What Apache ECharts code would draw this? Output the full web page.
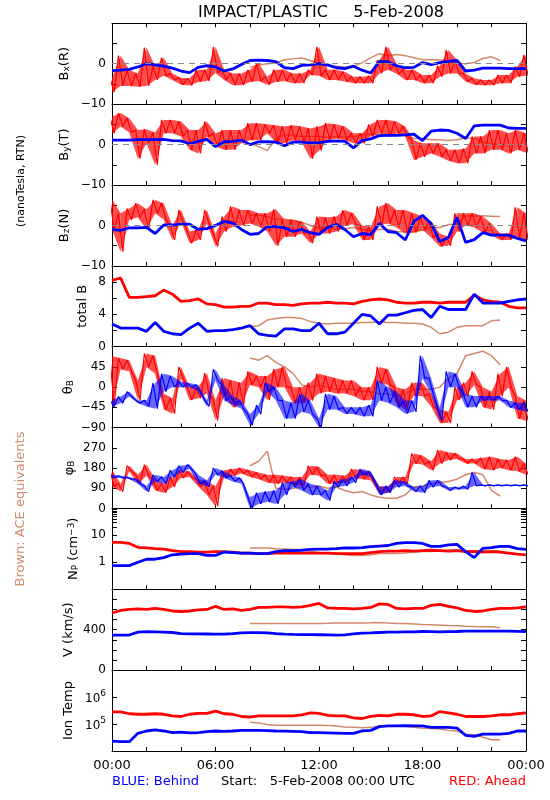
<!DOCTYPE html>
<html><head><meta charset="utf-8">
<script src="https://cdn.jsdelivr.net/npm/echarts@6/dist/echarts.min.js"></script>
<style>html,body{margin:0;padding:0;background:#fff}#c{width:550px;height:800px}</style>
</head><body><div id="c"></div>
<script>
// ---------------- DATA (30-minute steps) ----------------
const hours = [0,0.5,1,1.5,2,2.5,3,3.5,4,4.5,5,5.5,6,6.5,7,7.5,8,8.5,9,9.5,10,10.5,11,11.5,12,12.5,13,13.5,14,14.5,15,15.5,16,16.5,17,17.5,18,18.5,19,19.5,20,20.5,21,21.5,22,22.5,23,23.5,24];
const timeLabels = ['00:00','06:00','12:00','18:00','00:00'];

// Bx (R)
const bxBlue  = [-1.7,-1.6,-1.4,-0.8,0,-0.3,-0.6,-1.1,-1.8,-2.2,-0.9,-0.5,-0.8,-1.8,-1.3,-0.2,0.8,0.9,0.8,0.5,-1.0,-1.2,-0.4,-0.3,0,-0.3,-1.0,-1.2,-0.6,-1.6,-2.3,0.6,0.5,-0.5,-1.0,-0.9,0.3,-0.2,0.3,0.6,0.8,-1.8,-1.6,-1.1,-1.1,-1.1,-1.2,-1.2,-1.2];
const bxRedHi = [-3.5,2.0,-1.5,-2.4,4.0,-0.7,1.5,-2.4,-3.5,-3.6,-1.5,-1.5,4.2,-1.5,-2.4,-2.4,-1.5,0.1,-3.2,-1.5,-1.5,-2.4,-2.4,-1.5,4.2,-1.5,-1.5,-2.0,-3.2,-3.2,-3.0,0.9,4.2,0,-1.5,-1.5,-2.8,-2.8,-0.5,3.4,0.9,-2.4,-3.6,-4.0,-4.0,-2.8,-2.8,-0.7,2.2];
const bxRedLo = [-7,-5.5,-5.5,-5.7,-5.5,-4,-3,-4,-5.2,-5.4,-4.5,-4.3,-2.3,-4,-5.3,-5.3,-4.5,-4.3,-5.2,-4.5,-4.3,-4.8,-4.8,-2.8,-3,-4,-4,-4.4,-4.8,-4.8,-4.8,-2.4,-1.5,-2.5,-4,-4,-4.8,-4.8,-3.2,-2.4,-2.4,-4.4,-5.2,-5.3,-5.3,-4.8,-4.8,-3.2,-3];
const bxBrown = [null,null,null,null,null,null,null,null,null,null,null,null,null,null,null,null,-0.9,-0.3,0.0,0.2,1.0,1.2,1.4,0.8,0.0,-0.5,-0.6,-0.8,-0.6,0.2,1.5,2.5,2.0,2.3,2.0,1.5,1.0,1.0,1.0,0.4,0.1,0,0.3,1.3,1.7,0.8,null,null,null];

// By (T)
const byBlue  = [1.1,1.1,1.1,1.2,1.2,1.2,1.3,1.0,0.9,0.2,0.8,1.3,-0.5,0.7,0.8,1.1,0.0,0.7,0.7,0.6,-0.3,0.6,0.6,0.4,0.5,0.8,0.9,0.8,-0.8,1.0,1.4,2.2,2.3,2.3,2.4,2.6,1.0,3.3,3.6,3.5,2.8,1.5,4.6,4.8,4.8,4.8,4.1,4.0,4.0];
const byRedHi = [6.9,7.8,6.5,3.6,3.8,3.0,6.1,6.1,5.7,3.6,3.6,5.7,2.8,3.6,3.6,3.6,5.3,5.3,5.0,4.8,4.5,4.8,4.5,4.0,4.5,5.3,5.0,4.5,2.8,2.8,5.0,6.1,6.1,5.7,4.5,1.1,0.3,0.3,0.3,-1.3,-1.3,-1.0,2.0,2.0,3.6,3.6,2.8,3.6,2.8];
const byRedLo = [2.8,4.5,3.0,-3.5,0.3,-5.0,2.8,2.8,2.0,-1.3,-2.2,2.0,-0.5,-1.3,-1.3,0.3,1.1,1.1,2.8,0.5,0.3,1.1,0.5,-3.5,-1.5,1.1,1.5,1.1,0.3,0.3,2.0,2.8,2.0,2.8,2.0,-3.8,-3.0,-2.2,-3.0,-4.0,-4.6,-4.6,-2.2,-2.2,-1.3,-1.3,-2.2,-1.3,-2.0];
const byBrown = [null,null,null,null,null,null,null,null,null,null,null,null,null,null,null,null,0.3,-0.5,-1.5,1.5,2.5,2.3,2.0,2.0,2.0,1.8,2.0,2.0,1.9,2.5,2.5,2.5,2.4,2.5,2.3,1.5,1.5,1.2,1.2,1.0,1.2,1.7,1.5,0.5,0.2,0,null,null,null];

// Bz (N)
const bzBlue  = [-1.0,-1.2,-0.6,-0.6,-0.5,-2.0,0.1,0.1,0.3,0.3,-1.0,-0.8,0.0,1.0,0.6,-1.0,-2.2,-2.0,-0.3,-0.3,-0.6,-1.5,-1.0,-1.8,-2.2,-0.5,0.3,-1.0,-2.8,-2.0,-2.3,0.5,-1.5,-1.8,-3.6,1.0,2.5,0.5,-4.0,-3.0,2.0,-4.2,-3.5,-1.8,-2.4,-2.4,-2.4,-3.2,-3.8];
const bzRedHi = [6.5,3.0,4.2,5.5,4.0,6.3,5.5,0,3.8,-1.5,-1.0,3.8,-2.0,2.2,4.7,3.8,3.8,3.0,3.0,4.0,1.4,1.4,1.0,-1.5,2.2,2.0,2.2,3.8,3.0,0.0,-0.3,4.7,5.5,3.8,3.8,3.0,2.2,1.0,-2.0,-2.8,3.0,3.0,3.0,2.2,0.5,-2.0,-2.0,4.5,3.0];
const bzRedLo = [-1.0,-6.5,1.4,2.0,-1.0,3.0,1.4,-3.6,1.0,-4.4,-3.6,0.5,-5.2,-1.5,-0.3,0.0,0.5,-0.3,-1.5,-5.0,-2.8,-2.8,-2.0,-4.4,-2.0,-2.0,-1.5,0.0,0.3,-3.6,-3.6,0.0,0.5,-0.5,-2.0,-1.8,-1.1,-3.0,-5.2,-5.0,-1.5,0.0,-0.5,-1.8,-2.4,-3.6,-3.6,-3.0,-3.6];
const bzBrown = [null,null,null,null,null,null,null,null,null,null,null,null,null,null,null,null,2.5,2.5,2.2,1.5,1.5,1.2,0.8,0,-0.5,-0.3,-1.0,-0.8,-0.5,-1.0,-1.2,-1.0,-1.0,-1.5,-1.6,-1.5,-1.2,-0.5,-0.5,0.2,0.3,2.3,2.3,2.4,2.3,2.2,null,null,null];

// total B
const btBlue  = [2.8,2.3,2.3,2.3,1.9,3.0,1.9,1.6,1.5,2.3,2.9,1.9,2.0,2.0,2.1,2.3,2.6,1.6,1.4,1.3,2.2,2.2,2.0,2.0,2.9,1.6,1.6,1.8,2.9,4.0,3.8,2.8,3.9,3.9,4.2,4.5,4.6,3.6,5.0,4.6,4.6,4.6,6.5,5.4,5.4,5.4,5.6,5.8,5.9];
const btRed   = [8.2,8.5,6.1,6.1,6.2,6.3,7.0,6.5,5.6,5.7,5.9,5.3,5.2,4.9,4.9,5.0,5.0,5.4,5.4,5.2,5.2,5.1,5.3,5.4,5.4,5.5,5.4,5.4,5.3,5.6,5.8,5.9,5.8,5.5,5.4,5.4,5.5,5.5,5.4,5.5,5.5,5.5,6.4,5.8,5.6,5.5,5.0,4.8,4.8];
const btBrown = [null,null,null,null,null,null,null,null,null,null,null,null,null,null,null,null,2.5,2.6,3.3,3.5,3.6,3.6,3.5,3.1,2.9,2.8,2.9,2.9,2.9,3.0,3.0,3.1,3.0,3.0,2.9,2.9,2.8,2.4,1.6,1.8,2.4,2.6,2.6,2.6,3.2,3.3,null,null,null];

// theta_B
const thBlueHi = [-29,-21,-10,-29,-29,9,30,25,12,9,5,-29,40,5,-20,-30,-60,-40,10,0,-30,-35,-15,-30,-70,-15,-20,-45,-45,-45,-40,15,0,-10,-30,-30,70,20,-45,35,30,-15,-20,-20,-20,-20,-30,-35,-35];
const thBlueLo = [-43,-36,-21,-36,-43,-48,-10,0,0,0,-10,-43,15,-30,-40,-48,-85,-60,-10,-29,-70,-70,-55,-60,-90,-50,-50,-59,-60,-65,-65,-30,-35,-45,-59,-55,20,-15,-75,0,0,-45,-45,-30,-30,-30,-45,-50,-55];
const thRedHi  = [69,65,60,15,75,70,-14,-25,45,0,0,31,-29,20,15,10,35,25,25,40,45,0,0,10,30,25,20,15,15,0,0,45,40,0,-5,10,10,-14,-50,-55,0,10,35,0,-10,30,45,-20,-30];
const thRedLo  = [-43,40,35,-29,45,30,-50,-59,20,-29,-25,-14,-74,-20,-45,-40,5,0,-29,0,0,-36,-36,-30,-14,-10,-14,-14,-20,-29,-29,9,5,-40,-50,-20,-20,-43,-80,-80,-29,-20,5,-45,-50,-20,0,-70,-75];
const thBrown  = [null,null,null,null,null,null,null,null,null,null,null,null,null,null,null,null,65,60,70,55,45,30,5,0,5,0,-5,-5,-5,-10,-10,-15,-15,-20,-15,-5,-5,-5,0,20,30,70,75,80,70,50,null,null,null];

// phi_B
const phBlueHi = [150,145,140,130,100,150,140,170,190,195,150,125,180,165,145,135,50,70,75,80,115,120,130,110,100,80,120,130,140,175,165,95,100,125,120,95,100,125,125,95,95,100,160,105,105,105,105,105,105];
const phBlueLo = [135,135,130,110,75,120,110,140,160,175,110,97,150,135,120,110,0,20,30,20,60,95,80,60,60,35,95,100,115,150,140,60,70,95,100,75,70,95,100,80,85,85,100,100,100,100,100,100,100];
const phRedHi  = [172,110,190,150,195,130,110,140,170,165,130,120,100,170,175,180,170,160,150,150,145,140,140,190,185,150,150,145,175,170,160,100,95,140,140,245,235,210,260,250,245,220,220,225,230,220,215,230,200];
const phRedLo  = [97,75,165,110,145,80,70,95,135,140,97,60,10,140,145,155,140,130,115,110,115,105,100,150,145,110,110,115,135,130,125,65,70,110,110,200,195,170,200,215,220,200,200,175,170,180,170,165,150];
const phBrown  = [null,null,null,null,null,null,null,null,null,null,null,null,null,null,null,null,190,210,255,90,85,90,95,95,100,90,95,80,70,75,60,50,45,45,60,95,100,110,115,120,130,150,160,150,80,55,null,null,null];

// Np (cm^-3)
const npBlue  = [0.75,0.75,0.75,1.0,1.3,1.3,1.5,1.9,2.0,2.1,2.1,1.8,1.8,2.4,2.3,2.2,2.2,2.1,2.1,2.5,2.7,2.7,2.8,3.0,3.1,3.1,3.2,3.4,3.4,3.5,3.8,4.0,4.2,5.0,5.4,5.4,5.0,3.9,3.9,4.4,4.6,2.5,1.5,3.3,3.5,3.9,3.9,3.2,3.0];
const npRed   = [5.5,5.5,5.0,3.6,3.4,3.2,3.1,2.7,2.5,2.5,2.4,2.4,2.5,2.5,2.4,2.2,2.2,2.1,2.1,2.2,2.2,2.2,2.2,2.2,2.2,2.2,2.1,2.1,2.1,2.1,2.3,2.5,2.6,2.6,2.7,2.6,2.7,2.8,2.7,2.6,2.7,2.5,2.5,2.4,2.5,2.4,2.2,2.0,1.9];
const npBrown = [null,null,null,null,null,null,null,null,null,null,null,null,null,null,null,null,3.4,3.4,3.4,3.2,3.1,3.0,3.0,2.5,2.3,2.2,2.2,1.9,1.8,1.8,1.9,2.1,2.1,2.1,2.2,2.4,2.5,2.5,2.6,2.8,2.8,2.7,2.7,2.7,2.7,2.6,null,null,null];

// V (km/s)
const vBlue  = [347,347,347,375,380,378,375,372,360,358,358,357,356,355,360,368,370,370,368,360,355,353,352,352,350,348,346,348,358,365,368,372,375,375,378,378,382,380,378,380,382,385,385,385,385,385,385,383,380];
const vRed   = [565,590,600,605,600,610,600,585,580,585,595,600,630,600,605,590,600,620,620,625,625,620,625,640,660,615,610,610,605,610,620,655,650,610,605,610,610,640,650,630,615,590,580,585,600,610,610,615,625];
const vBrown = [null,null,null,null,null,null,null,null,null,null,null,null,null,null,null,null,462,462,462,462,462,462,462,462,462,463,465,466,466,467,468,470,465,462,460,455,450,448,445,442,440,435,432,430,430,420,null,null,null];

// Ion Temp (K)
const tBlue  = [2.3e4,2.2e4,2.2e4,4.5e4,5.5e4,6.0e4,5.5e4,4.8e4,5.0e4,4.7e4,4.8e4,5.2e4,5.5e4,5.3e4,5.5e4,5.8e4,5.8e4,5.8e4,5.7e4,5.5e4,5.4e4,5.3e4,5.2e4,4.8e4,4.8e4,4.7e4,4.6e4,4.5e4,4.5e4,5.6e4,5.8e4,8.0e4,8.5e4,8.5e4,8.6e4,8.5e4,8.5e4,7.5e4,7.5e4,7.5e4,7.0e4,3.8e4,3.5e4,4.2e4,4.2e4,4.2e4,4.5e4,5.5e4,5.5e4];
const tRed   = [2.8e5,2.8e5,2.4e5,2.3e5,2.3e5,2.4e5,2.3e5,2.0e5,1.9e5,2.3e5,2.5e5,2.5e5,3.0e5,2.4e5,2.3e5,1.9e5,1.8e5,2.0e5,2.0e5,2.0e5,2.0e5,2.0e5,2.2e5,2.6e5,2.5e5,2.1e5,2.0e5,2.0e5,1.7e5,1.6e5,1.9e5,2.1e5,2.0e5,2.3e5,2.3e5,2.2e5,1.9e5,2.0e5,2.9e5,2.6e5,2.3e5,1.9e5,1.9e5,1.9e5,2.0e5,2.2e5,2.2e5,2.4e5,2.6e5];
const tBrown = [null,null,null,null,null,null,null,null,null,null,null,null,null,null,null,null,1.15e5,1.1e5,9.5e4,9e4,9e4,9e4,9e4,9e4,9e4,8.8e4,8.5e4,7.8e4,7.5e4,7.2e4,7.5e4,8.5e4,8.5e4,8.5e4,8.3e4,7.5e4,7.0e4,6.8e4,6.5e4,5.8e4,5.5e4,4.2e4,4.0e4,3.2e4,2.6e4,2.6e4,null,null,null];

// ---------------- STYLE / LAYOUT ----------------
const FONT = 'DejaVu Sans';
const BLUE = '#0000ff', RED = '#ff0000', BROWN = '#d2886a';
const TOP0 = 23.3, PH = 80.85, GL = 112, GR = 24;

function minusFmt(v){ return v < 0 ? '\u2212' + Math.abs(v) : String(v); }

const panels = [
  {min:-10,max:10,interval:5,labels:[-10,0],zero:true, blue:{v:bxBlue}, red:{hi:bxRedHi,lo:bxRedLo}, brown:bxBrown, name:'B{s|x}(R)', nx:65},
  {min:-10,max:10,interval:5,labels:[-10,0],zero:true, blue:{v:byBlue}, red:{hi:byRedHi,lo:byRedLo}, brown:byBrown, name:'B{s|y}(T)', nx:65},
  {min:-10,max:10,interval:5,labels:[-10,0],zero:true, blue:{v:bzBlue}, red:{hi:bzRedHi,lo:bzRedLo}, brown:bzBrown, name:'B{s|z}(N)', nx:65},
  {min:0,max:10,interval:2,labels:[0,4,8], blue:{v:btBlue}, red:{v:btRed}, brown:btBrown, name:'total B', nx:83},
  {min:-90,max:90,interval:45,labels:[-90,-45,0,45], blue:{hi:thBlueHi,lo:thBlueLo}, red:{hi:thRedHi,lo:thRedLo}, brown:thBrown, name:'\u03b8{s|B}', nx:69},
  {min:0,max:360,interval:90,labels:[0,90,180,270], blue:{hi:phBlueHi,lo:phBlueLo}, red:{hi:phRedHi,lo:phRedLo}, brown:phBrown, name:'\u03c6{s|B}', nx:70},
  {log:true,min:0.1,max:100,ticks:[0.1,1,10,20,30,40,50,60,70,80,90,100],labels:[1,10], blue:{v:npBlue}, red:{v:npRed}, brown:npBrown, name:'N{s|P} (cm{u|\u22123})', nx:74},
  {min:0,max:800,interval:100,labels:[0,400], blue:{v:vBlue}, red:{v:vRed}, brown:vBrown, name:'V (km/s)', nx:69},
  {log:true,min:1e4,max:1e7,ticks:[1e4,1e5,1e6,1e7],labels:[1e5,1e6], pow:true, blue:{v:tBlue}, red:{v:tRed}, brown:tBrown, name:'Ion Temp', nx:69}
];

function lineData(vals){ return hours.map((t,i)=>[t, vals[i]]); }
function zigzag(hi, lo){ const d=[]; hours.forEach((t,i)=>{ d.push([t-0.125, hi[i]]); d.push([t+0.125, lo[i]]); }); return d; }

const grids=[], xAxes=[], yAxes=[], series=[], graphics=[];
const tickStyle = {color:'#000', width:1};

function bandRender(color, opacity){
  return function(params, api){
    const k = params.dataIndexInside;
    if(k >= params.dataInsideLength - 1) return null;
    const t0 = api.value(0, k), l0 = api.value(1, k), h0 = api.value(2, k);
    const t1 = api.value(0, k+1), l1 = api.value(1, k+1), h1 = api.value(2, k+1);
    const pts = [api.coord([t0,l0]), api.coord([t0,h0]), api.coord([t1,h1]), api.coord([t1,l1])];
    return {type:'polygon', shape:{points:pts}, style:{fill:color, opacity:opacity, stroke:null}};
  };
}

function addTrace(i, spec, color, z, wSingle, bandOpacity){
  const common = {xAxisIndex:i, yAxisIndex:2*i, animation:false, clip:true, silent:true, z:z};
  if(spec.v){
    series.push(Object.assign({type:'line', showSymbol:false, symbol:'none', connectNulls:false}, common,
      {data:lineData(spec.v), lineStyle:{color:color,width:wSingle}, itemStyle:{color:color}}));
    return;
  }
  series.push(Object.assign({type:'custom', renderItem:bandRender(color, bandOpacity), encode:{x:0, y:[1,2]}}, common,
    {data:hours.map((t,k)=>[t, spec.lo[k], spec.hi[k]])}));
  series.push(Object.assign({type:'line', showSymbol:false, symbol:'none'}, common,
    {data:zigzag(spec.hi, spec.lo), lineStyle:{color:color,width:1.2}, itemStyle:{color:color}}));
}

panels.forEach((p,i)=>{
  const top = TOP0 + PH*i;
  grids.push({left:GL, right:GR, top:top, height:PH, containLabel:false, outerBoundsMode:'none'});
  const last = (i === panels.length-1);
  xAxes.push({gridIndex:i, type:'value', min:0, max:24, interval:2, position:'bottom',
    axisLine:{show:true,onZero:false,lineStyle:tickStyle},
    axisTick:{show:true,inside:true,length:4,lineStyle:tickStyle},
    axisLabel:{show:last, margin:8, color:'#000', fontFamily:FONT, fontSize:13,
      formatter:v=> (v%6===0) ? timeLabels[v/6] : ''},
    splitLine:{show:false}});
  const base = {gridIndex:i, type:p.log?'log':'value', min:p.min, max:p.max, splitLine:{show:false},
    axisLine:{show:true,onZero:false,lineStyle:tickStyle}};
  if(p.log) base.logBase = 10; else base.interval = p.interval;
  const tick = {show:true,inside:true,length:5,lineStyle:tickStyle};
  if(p.ticks) tick.customValues = p.ticks;
  const lab = {show:true, margin:6, color:'#000', fontFamily:FONT, fontSize:12,
    rich:{b:{fontFamily:FONT,fontSize:12,color:'#000',lineHeight:16,verticalAlign:'bottom'}, sup:{fontFamily:FONT,fontSize:9,color:'#000',lineHeight:8,verticalAlign:'top'}}};
  if(p.log){
    lab.customValues = p.labels;
    lab.formatter = p.pow ? (v=>'{b|10}{sup|'+Math.round(Math.log10(v))+'}') : (v=>String(v));
  } else {
    lab.formatter = v => p.labels.indexOf(v) >= 0 ? minusFmt(v) : '';
  }
  yAxes.push(Object.assign({}, base, {position:'left', axisTick:tick, axisLabel:lab}));
  yAxes.push(Object.assign({}, base, {position:'right', axisTick:tick, axisLabel:{show:false}}));

  const brownS = {type:'line', xAxisIndex:i, yAxisIndex:2*i, showSymbol:false, symbol:'none', animation:false, clip:true, connectNulls:false, silent:true,
    data:lineData(p.brown), lineStyle:{color:BROWN,width:1.5}, itemStyle:{color:BROWN}, z:2};
  if(p.zero){
    brownS.markLine = {silent:true, symbol:'none', animation:false, label:{show:false},
      lineStyle:{color:'#888888', type:[6,5], width:1}, data:[{yAxis:0}]};
  }
  series.push(brownS);
  addTrace(i, p.red, RED, 3, 2.8, 0.7);
  addTrace(i, p.blue, BLUE, 4, 2.8, 0.6);

  graphics.push({type:'text', x:p.nx, y:top+PH/2, rotation:Math.PI/2, silent:true,
    style:{text:p.name, fill:'#000', font:'13px "'+FONT+'"', align:'center', verticalAlign:'middle',
      rich:{s:{fontFamily:FONT,fontSize:9,fill:'#000',lineHeight:9,verticalAlign:'bottom'},
            u:{fontFamily:FONT,fontSize:9,fill:'#000',lineHeight:9,verticalAlign:'top'}}}});
});
xAxes.push({gridIndex:0, type:'value', min:0, max:24, interval:2, position:'top',
  axisLine:{show:true,onZero:false,lineStyle:tickStyle},
  axisTick:{show:true,inside:true,length:4,lineStyle:tickStyle},
  axisLabel:{show:false}, splitLine:{show:false}});

graphics.push(
  {type:'text', x:321, y:13, silent:true, style:{text:'IMPACT/PLASTIC     5-Feb-2008', fill:'#000', font:'16px "'+FONT+'"', align:'center', verticalAlign:'middle'}},
  {type:'text', x:21, y:181, rotation:Math.PI/2, silent:true, style:{text:'(nanoTesla, RTN)', fill:'#000', font:'11px "'+FONT+'"', align:'center', verticalAlign:'middle'}},
  {type:'text', x:21, y:509, rotation:Math.PI/2, silent:true, style:{text:'Brown: ACE equivalents', fill:BROWN, font:'13px "'+FONT+'"', align:'center', verticalAlign:'middle'}},
  {type:'text', x:112, y:782, silent:true, style:{text:'BLUE: Behind', fill:BLUE, font:'13px "'+FONT+'"', align:'left', verticalAlign:'middle'}},
  {type:'text', x:318, y:782, silent:true, style:{text:'Start:   5-Feb-2008 00:00 UTC', fill:'#000', font:'13px "'+FONT+'"', align:'center', verticalAlign:'middle'}},
  {type:'text', x:526, y:782, silent:true, style:{text:'RED: Ahead', fill:RED, font:'13px "'+FONT+'"', align:'right', verticalAlign:'middle'}}
);

const chart = echarts.init(document.getElementById('c'), null, {renderer:'canvas', width:550, height:800});
chart.setOption({
  backgroundColor:'#ffffff', animation:false,
  grid:grids, xAxis:xAxes, yAxis:yAxes, series:series, graphic:graphics
});
</script>
</body></html>
